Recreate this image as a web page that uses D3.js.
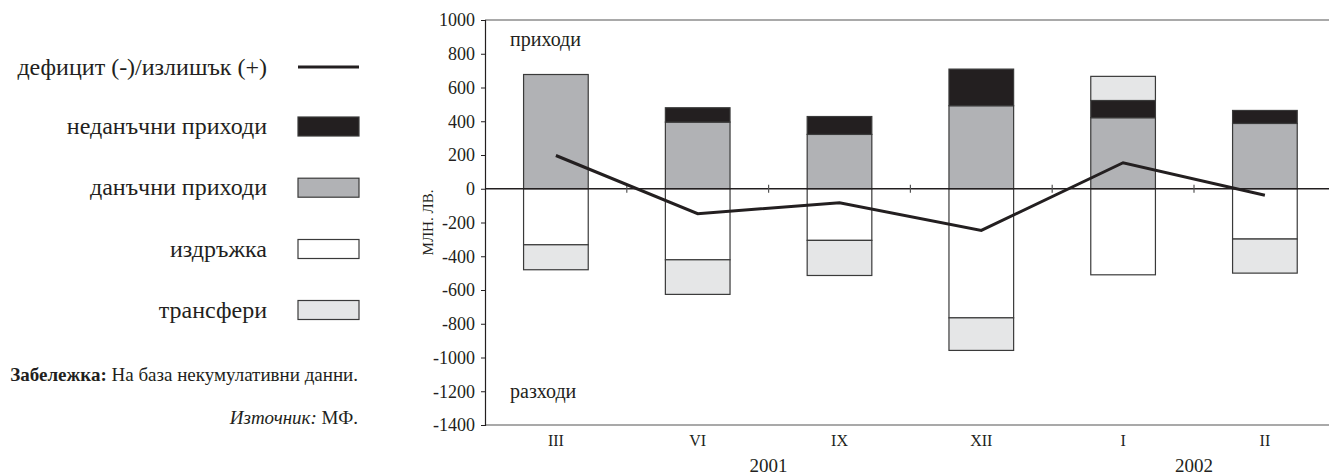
<!DOCTYPE html>
<html><head><meta charset="utf-8">
<script src="https://cdn.jsdelivr.net/npm/d3@7"></script>
<style>
html,body{margin:0;padding:0;background:#fff;}
svg{display:block;font-family:"Liberation Serif","Times New Roman",serif;}
</style></head>
<body><svg id="chart" width="1329" height="476"></svg>
<script>
const months = ["III","VI","IX","XII","I","II"];
const taxRevenue = [677, 395, 322, 492, 421, 387];
const nonTaxRevenue = [0, 85, 106, 217, 102, 77];
const maintenance = [-332, -421, -306, -765, -510, -298];
const transfers = [-148, -205, -208, -193, 143, -202];
const balance = [197, -148, -83, -247, 154, -38];
const yTicks = [1000,800,600,400,200,0,-200,-400,-600,-800,-1000,-1200,-1400];
const years = ["2001","2002"];
const yearAnchors = [["VI","IX"],["I","II"]];
const legendLabels = ["дефицит (-)/излишък (+)","неданъчни приходи","данъчни приходи","издръжка","трансфери"];

const FONT = "Liberation Serif";
const C = {black:"#231f20", gray:"#b1b2b5", white:"#ffffff", light:"#e5e6e7", stroke:"#3a3a3a", frame:"#8c8c8c"};

const svg = d3.select("#chart");
const pLeft = 485, pRight = 485 + 6*141.8, pTop = 20, pBottom = 425;

const x = d3.scaleBand().domain(months).range([pLeft, pRight]).paddingInner(0.544).paddingOuter(0.272);
const y = d3.scaleLinear().domain([-1400, 1000]).range([pBottom, pTop]);

// frame lines
svg.append("line").attr("x1",pLeft).attr("x2",pRight).attr("y1",y(1000)).attr("y2",y(1000)).attr("stroke",C.frame).attr("stroke-width",1.5);
svg.append("line").attr("x1",pLeft).attr("x2",pRight).attr("y1",y(-1400)).attr("y2",y(-1400)).attr("stroke",C.frame).attr("stroke-width",1.5);

// stacks
const segs = [];
months.forEach((m,i)=>{
  let pos = 0, neg = 0;
  const add = (v, fill) => {
    if (v === 0) return;
    if (v > 0) { segs.push({m, y0:pos, y1:pos+v, fill}); pos += v; }
    else { segs.push({m, y0:neg, y1:neg+v, fill}); neg += v; }
  };
  add(taxRevenue[i], C.gray);
  add(nonTaxRevenue[i], C.black);
  add(maintenance[i], C.white);
  add(transfers[i], C.light);
});
svg.append("g").selectAll("rect").data(segs).join("rect")
  .attr("x", d=>x(d.m)).attr("width", x.bandwidth())
  .attr("y", d=>y(Math.max(d.y0,d.y1))).attr("height", d=>Math.abs(y(d.y0)-y(d.y1)))
  .attr("fill", d=>d.fill).attr("stroke", C.stroke).attr("stroke-width",1.2);

// y axis
const yAxis = d3.axisLeft(y).tickValues(yTicks).tickSize(4).tickPadding(6).tickFormat(d3.format("d"));
const ga = svg.append("g").attr("transform",`translate(${pLeft},0)`).call(yAxis);
ga.attr("font-family",FONT);
ga.select(".domain").attr("stroke","#231f20").attr("stroke-width",1.2);
ga.selectAll(".tick line").attr("stroke","#231f20");
ga.selectAll("text").attr("font-size",18).attr("fill","#231f20").attr("font-family",FONT);
ga.selectAll(".tick text").text(d=>d<0 ? "-"+Math.abs(d) : d);

// zero line
svg.append("line").attr("x1",pLeft).attr("x2",pRight).attr("y1",y(0)).attr("y2",y(0)).attr("stroke","#231f20").attr("stroke-width",1.3);
const step = x.step();
const boundaries = d3.range(1,7).map(i=>pLeft + i*step);
svg.append("g").selectAll("line").data(boundaries).join("line")
  .attr("x1",d=>d).attr("x2",d=>d).attr("y1",y(0)-4).attr("y2",y(0)+4)
  .attr("stroke","#555").attr("stroke-width",1.2);

// category labels
svg.append("g").selectAll("text").data(months).join("text")
  .attr("x", d=>x(d)+x.bandwidth()/2).attr("y", 446).attr("font-family",FONT)
  .attr("text-anchor","middle").attr("font-size",16).attr("fill","#231f20").text(d=>d);
svg.append("g").selectAll("text").data(years).join("text")
  .attr("x", (d,i)=>(x(yearAnchors[i][0])+x(yearAnchors[i][1])+x.bandwidth())/2).attr("y", 472).attr("font-family",FONT)
  .attr("text-anchor","middle").attr("font-size",19).attr("fill","#231f20").text(d=>d);

// balance line
const line = d3.line().x((d,i)=>x(months[i])+x.bandwidth()/2).y(d=>y(d));
svg.append("path").datum(balance).attr("d",line).attr("fill","none").attr("stroke","#231f20").attr("stroke-width",3);

// in-plot labels
svg.append("text").attr("x",510).attr("y",46).attr("font-size",20).attr("font-family",FONT).attr("fill","#231f20").text("приходи");
svg.append("text").attr("x",510).attr("y",398).attr("font-size",20).attr("font-family",FONT).attr("fill","#231f20").text("разходи");

// y title
svg.append("text").attr("transform","translate(433,222.5) rotate(-90)").attr("text-anchor","middle").attr("font-family",FONT)
  .attr("font-size",15).attr("fill","#231f20").text("МЛН. ЛВ.");

// legend
const legY = [67, 126.5, 187.7, 249, 310];
const lg = svg.append("g").attr("font-family",FONT);
legendLabels.forEach((t,i)=>{
  lg.append("text").attr("x",267).attr("y",legY[i]+7.5).attr("text-anchor","end").attr("font-size",24).attr("fill","#231f20").text(t);
  if (i===0) {
    lg.append("line").attr("x1",298).attr("x2",359).attr("y1",legY[i]).attr("y2",legY[i]).attr("stroke","#231f20").attr("stroke-width",3);
  } else {
    const f = [C.black,C.gray,C.white,C.light][i-1];
    lg.append("rect").attr("x",298).attr("y",legY[i]-9.5).attr("width",61).attr("height",19)
      .attr("fill",f).attr("stroke",C.stroke).attr("stroke-width",1.2);
  }
});

// notes
const n1 = svg.append("text").attr("x",358).attr("y",381).attr("text-anchor","end").attr("font-size",19).attr("font-family",FONT).attr("fill","#231f20");
n1.append("tspan").attr("font-weight","bold").text("Забележка:");
n1.append("tspan").text(" На база некумулативни данни.");
const n2 = svg.append("text").attr("x",358).attr("y",424).attr("text-anchor","end").attr("font-size",19).attr("font-family",FONT).attr("fill","#231f20");
n2.append("tspan").attr("font-style","italic").text("Източник:");
n2.append("tspan").text(" МФ.");
</script></body></html>
